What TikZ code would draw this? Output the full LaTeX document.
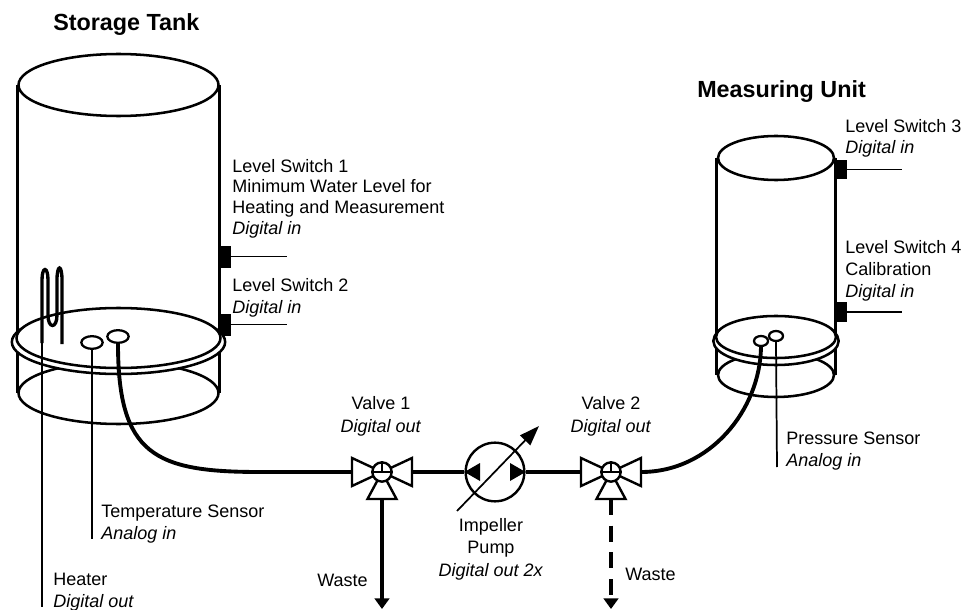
\documentclass[tikz,border=0pt]{standalone}
\usepackage{fontspec}
\setmainfont{Liberation Sans}
\usetikzlibrary{calc}
\usetikzlibrary{arrows.meta}
\usetikzlibrary{shapes.geometric}

\tikzset{
    rim/.style={ellipse,draw=black,line width=1.9pt,fill=white,inner sep=0pt},
    sensor/.style={ellipse,draw=black,line width=1.7pt,fill=white,inner sep=0pt,minimum width=16pt,minimum height=9.5pt},
    wall/.style={line width=2pt},
    thin wire/.style={line width=1.3pt},
    tube/.style={line width=2.9pt},
    switch/.style={fill=black,draw=none,inner sep=0pt,minimum width=9.75pt,minimum height=16.5pt},
    lbl/.style={align=left,anchor=base west,inner sep=0pt,font=\fontsize{13.5}{16.5}\selectfont},
    clbl/.style={align=center,anchor=base,inner sep=0pt,font=\fontsize{13.5}{16.8}\selectfont},
    title/.style={anchor=base west,inner sep=0pt,font=\fontsize{17.5}{20}\selectfont\bfseries}
}

\begin{document}
\begin{tikzpicture}[x=0.75pt,y=-0.75pt]
            \useasboundingbox (0,0) rectangle (965,610);

            % Storage tank
            \node[rim,minimum width=150pt,minimum height=46.5pt] (sbot) at (118.5,393) {};
            \node[rim,minimum width=150pt,minimum height=46.5pt] (stop) at (118.5,85) {};
            \draw[wall] (stop.west) -- (sbot.west);
            \draw[wall] (stop.east) -- (sbot.east);
            \node[switch] (ls1) at (224.5,256.5) {};
            \node[switch] (ls2) at (224.5,324.5) {};
            \node[rim,minimum width=160pt,minimum height=48pt] (slip) at (118.5,342) {};
            \node[rim,minimum width=153pt,minimum height=45pt] (sfloor) at (118.5,338) {};
            \node[sensor] (temp) at (92,342.5) {};
            \node[sensor] (sin) at (118,336.5) {};

            % The heater coil
            \coordinate (heat) at (42,343);
            \draw[tube,line width=2.5pt] (heat) -- (42,280) .. controls (42,266) and (48,266) .. (48,280)
                -- (48,315) .. controls (48,329) and (57,329) .. (57,315)
                -- (57,280) .. controls (57,264) and (62,264) .. (62,280) -- (62,344);

            % Measuring unit
            \node[rim,minimum width=87pt,minimum height=33pt] (mbot) at (776,375) {};
            \node[rim,minimum width=87pt,minimum height=33pt] (mtop) at (776,158) {};
            \draw[wall] (mtop.west) -- (mbot.west);
            \draw[wall] (mtop.east) -- (mbot.east);
            \node[switch,minimum height=14.5pt] (ls3) at (840,169.5) {};
            \node[switch,minimum height=14.5pt] (ls4) at (840,312) {};
            \node[rim,minimum width=94pt,minimum height=36pt] (mlip) at (776,341) {};
            \node[rim,minimum width=90pt,minimum height=31.5pt] (mfloor) at (776,337) {};
            \node[sensor,minimum width=10.5pt,minimum height=7.5pt] (press) at (776,336) {};
            \node[sensor,minimum width=10.5pt,minimum height=7.5pt] (min) at (761,341) {};

            % Valves and pump
            \foreach \vname/\vx in {v1/382,v2/611} {
                \coordinate (\vname l) at ({\vx-30},472);
                \coordinate (\vname r) at ({\vx+30},472);
                \coordinate (\vname b) at (\vx,499);
                \draw[line width=1.8pt,line join=miter] (\vname l) -- ({\vx-30},458) -- (\vx,472) -- ({\vx+30},458)
                    -- ({\vx+30},486) -- (\vx,472) -- ({\vx-30},486) -- cycle;
                \draw[line width=1.8pt] (\vx,472) -- ({\vx+14.5},499) -- ({\vx-14.5},499) -- cycle;
                \node[circle,draw=black,fill=white,line width=1.8pt,inner sep=0pt,minimum size=14.5pt] (\vname) at (\vx,472) {};
                \draw[line width=1.3pt] (\vname.west) -- (\vname.east);
                \draw[line width=1.3pt] (\vname.north) -- (\vname.center);
            }
            \node[circle,draw=black,line width=1.8pt,inner sep=0pt,minimum size=44pt] (pump) at (495,472) {};
            \fill (pump.west) -- (480,463) -- (480,481) -- cycle;
            \fill (pump.east) -- (510,463) -- (510,481) -- cycle;
            \coordinate (pa) at (457,511);
            \coordinate (pb) at (539,426);
            \draw[thin wire,-{Triangle[length=15pt,width=10.5pt]}] (pa) -- (pb);

            % The lines!
            \draw[tube] (sin.south) .. controls (118,455) and (155,472) .. (260,472) -- (v1l);
            \draw[tube] (min.south) .. controls (760,410) and (710,472) .. (v2r);
            \draw[tube] (v1r) -- (pump.west);
            \draw[tube] (pump.east) -- (v2l);
            \coordinate (w1) at (382,609);
            \coordinate (w2) at (611,609);
            \draw[tube,-{Triangle[length=8pt,width=11pt]}] (v1b) -- (w1);
            \draw[tube,dash pattern=on 12pt off 8pt,-{Triangle[length=8pt,width=11pt]}] (v2b) -- (w2);

            % Signal wires
            \coordinate (heatend) at (42,607);
            \coordinate (tempend) at (92,539);
            \coordinate (pressend) at (777,467);
            \coordinate (ls1end) at (287,256.5);
            \coordinate (ls2end) at (287,324.5);
            \coordinate (ls3end) at (902,169.5);
            \coordinate (ls4end) at (902,312);
            \draw[thin wire] (heat) -- (heatend);
            \draw[thin wire] (temp.south) -- (tempend);
            \draw[thin wire] (press.south) -- (pressend);
            \draw[thin wire] (ls1) -- (ls1end);
            \draw[thin wire] (ls2) -- (ls2end);
            \draw[thin wire] (ls3) -- (ls3end);
            \draw[thin wire] (ls4) -- (ls4end);

            % Labels
            \node[title] (tstore) at (53,31) {Storage Tank};
            \node[title] (tmeas) at (697,98) {Measuring Unit};
            \node[lbl,font=\fontsize{13.5}{15.5}\selectfont] (l1) at (232,234) {Level Switch 1\\Minimum Water Level for\\Heating and Measurement\\\textit{Digital in}};
            \node[lbl] (l2) at (232,313) {Level Switch 2\\\textit{Digital in}};
            \node[lbl] (l3) at (845,154) {Level Switch 3\\\textit{Digital in}};
            \node[lbl] (l4) at (845,297) {Level Switch 4\\Calibration\\\textit{Digital in}};
            \node[lbl] (ltemp) at (101,539) {Temperature Sensor\\\textit{Analog in}};
            \node[lbl] (lheat) at (53,607) {Heater\\\textit{Digital out}};
            \node[lbl] (lpress) at (786,466) {Pressure Sensor\\\textit{Analog in}};
            \node[clbl] (lv1) at (381,432) {Valve 1\\\textit{Digital out}};
            \node[clbl] (lv2) at (611,432) {Valve 2\\\textit{Digital out}};
            \node[clbl] (lpump) at (491,576) {Impeller\\Pump\\\textit{Digital out 2x}};
            \node[lbl] (lw1) at (317,586) {Waste};
            \node[lbl] (lw2) at (625,580) {Waste};
        \end{tikzpicture}
\end{document}
